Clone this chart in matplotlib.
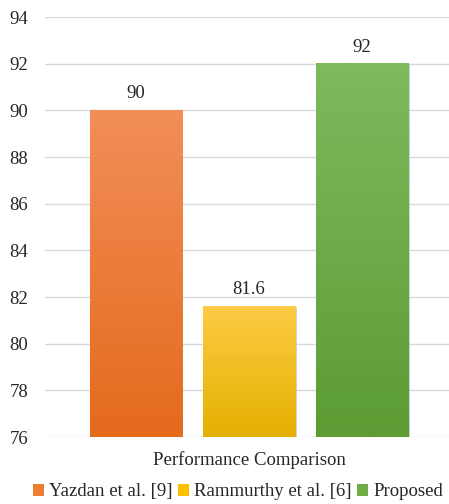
import numpy as np
import matplotlib.pyplot as plt
from matplotlib.colors import LinearSegmentedColormap
from matplotlib.patches import Patch

plt.rcParams['font.family'] = ['Liberation Serif', 'DejaVu Serif']

methods = ["Yazdan et al. [9]", "Rammurthy et al. [6]", "Proposed"]
scores = [90, 81.6, 92]
value_labels = ["90", "81.6", "92"]
yticks = [76, 78, 80, 82, 84, 86, 88, 90, 92, 94]

# top / bottom colours of each bar's gradient
top_colors = ["#F28E58", "#FFCB45", "#7EBA5E"]
bottom_colors = ["#E46A1C", "#E4B000", "#5C9C33"]
legend_colors = ["#ED7D31", "#FFC000", "#70AD47"]

fs = 13.5

fig = plt.figure(figsize=(4.49, 5.04), dpi=100)
ax = fig.add_axes([0.1002, 0.1329, 0.9087, 0.8333])

x = np.arange(len(methods))
bars = ax.bar(x, scores, width=0.815, bottom=0, color="none", zorder=3)

ax.set_ylim(76, 94)
ax.set_xlim(-0.805, 2.805)

grad = np.linspace(0, 1, 256).reshape(-1, 1)
for bar, c_top, c_bot in zip(bars, top_colors, bottom_colors):
    x0 = bar.get_x()
    w = bar.get_width()
    h = bar.get_height()
    cmap = LinearSegmentedColormap.from_list("g", [c_bot, c_top])
    ax.imshow(grad, cmap=cmap, origin="lower", aspect="auto",
              extent=[x0, x0 + w, 76, h], zorder=3)
    # faint shadow along the right edge
    ax.plot([x0 + w + 0.004, x0 + w + 0.004], [76, h - 0.05],
            color="#C8C8C8", lw=1.2, zorder=2)

for xi, v, lab in zip(x, scores, value_labels):
    ax.text(xi, v + 0.35, lab, ha="center", va="bottom",
            fontsize=fs, color="#262626", zorder=4)

ax.set_yticks(yticks)
ax.set_yticklabels([str(t) for t in yticks], fontsize=fs, color="#262626")
ax.set_xticks([])
ax.tick_params(axis="y", length=0, pad=12)
ax.grid(axis="y", color="#D9D9D9", lw=1, zorder=0)
for s in ax.spines.values():
    s.set_visible(False)

fig.text(0.555, 0.087, "Performance Comparison", ha="center", va="center",
         fontsize=fs, color="#262626")

handles = [Patch(facecolor=c) for c in legend_colors]
fig.legend(handles, methods, loc="center", bbox_to_anchor=(0.53, 0.024),
           ncol=3, frameon=False, fontsize=fs, handlelength=0.6,
           handleheight=0.6, handletextpad=0.25, columnspacing=0.3,
           borderpad=0, labelcolor="#262626")

fig.savefig("out.png", dpi=100)
